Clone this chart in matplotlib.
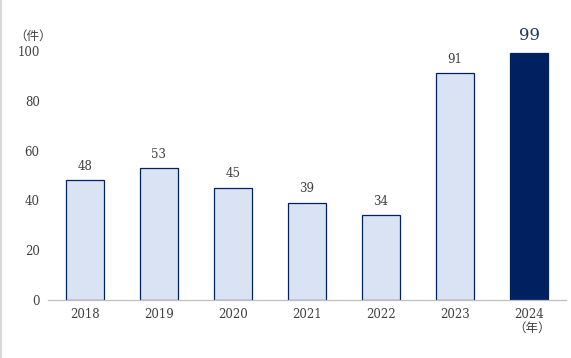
import matplotlib.pyplot as plt
from matplotlib.lines import Line2D

# Data
years = ['2018', '2019', '2020', '2021', '2022', '2023', '2024']
counts = [48, 53, 45, 39, 34, 91, 99]

light = '#DAE3F3'
navy = '#002060'
text_color = '#404040'
serif = ['DejaVu Serif']
cjk = ['Noto Sans CJK JP', 'DejaVu Sans']

fig = plt.figure(figsize=(5.71, 3.58), dpi=100)
ax = fig.add_axes([48 / 571, 58 / 358, 518 / 571, 249 / 358])

x = list(range(len(years)))
colors = [light] * (len(years) - 1) + [navy]
ax.bar(x, counts, width=0.51, color=colors, edgecolor=navy, linewidth=0.9, zorder=2)

# Value labels
for i, v in enumerate(counts):
    if i == len(counts) - 1:
        ax.text(i, v + 4, str(v), ha='center', va='bottom', fontsize=12,
                color='#1F3864', family=serif)
    else:
        ax.text(i, v + 3, str(v), ha='center', va='bottom', fontsize=8.5,
                color=text_color, family=serif)

ax.set_xlim(-0.5, len(years) - 0.5)
ax.set_ylim(0, 100)
ax.set_yticks(range(0, 101, 20))
ax.set_xticks(x)
ax.set_xticklabels(years)
for lab in ax.get_xticklabels() + ax.get_yticklabels():
    lab.set_family(serif)
    lab.set_fontsize(8.5)
    lab.set_color(text_color)

ax.tick_params(axis='both', length=0)
ax.tick_params(axis='y', pad=6)
ax.tick_params(axis='x', pad=6)
for side in ['top', 'right', 'left']:
    ax.spines[side].set_visible(False)
ax.spines['bottom'].set_color('#BFBFBF')
ax.spines['bottom'].set_linewidth(0.9)

# Units
fig.text(33 / 571, 1 - 36 / 358, '（件）', ha='center', va='center', fontsize=9,
         color=text_color, family=cjk)
fig.text(532 / 571, 1 - 328 / 358, '（年）', ha='center', va='center', fontsize=9,
         color=text_color, family=cjk)

# Thin frame line at the left edge
fig.add_artist(Line2D([1 / 571, 1 / 571], [0, 1], color='#D9D9D9', linewidth=1.5,
                      transform=fig.transFigure))

fig.savefig('out.png', dpi=100)
